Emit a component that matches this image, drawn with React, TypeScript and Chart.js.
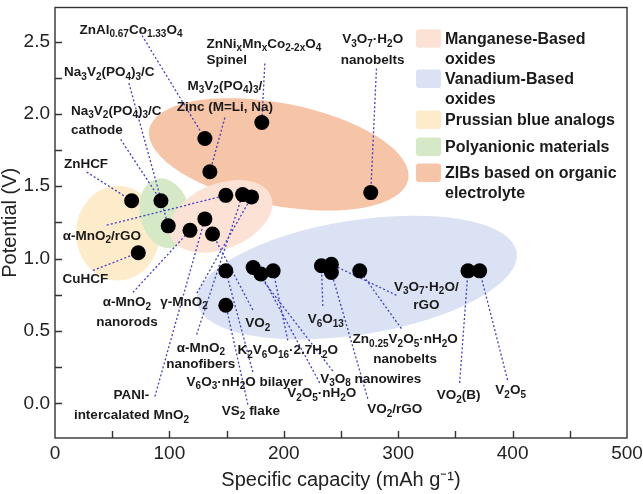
import { useEffect, useRef } from 'react';
import { Chart, registerables } from 'chart.js';

Chart.register(...registerables);

// ---------- data ----------
const capacity = [131, 135.4, 180.8, 276, 67, 92.6, 99, 72.8, 118, 131, 137.7, 149.3, 164, 171.8, 149.3, 149.3, 173.2, 180, 190.7, 232.9, 241.6, 241.6, 266.4, 361, 371.2];
const potential = [1.83, 1.6, 1.94, 1.456, 1.4, 1.4, 1.226, 1.04, 1.195, 1.274, 1.17, 1.437, 1.442, 1.426, 0.915, 0.677, 0.938, 0.893, 0.915, 0.95, 0.96, 0.904, 0.915, 0.915, 0.915];
const materialLabels: string[][] = [
  ['ZnAl_{0.67}Co_{1.33}O_4'],
  ['M_3V_2(PO_4)_3/', 'Zinc (M=Li, Na)'],
  ['ZnNi_xMn_xCo_{2-2x}O_4', 'Spinel'],
  ['V_3O_7·H_2O', 'nanobelts'],
  ['ZnHCF'],
  ['Na_3V_2(PO_4)_3/C', 'cathode'],
  ['Na_3V_2(PO_4)_3/C'],
  ['CuHCF'],
  ['α-MnO_2', 'nanorods'],
  ['PANI-', 'intercalated MnO_2'],
  ['VO_2'],
  ['α-MnO_2/rGO'],
  ['α-MnO_2', 'nanofibers'],
  ['γ-MnO_2'],
  ['V_6O_3·nH_2O bilayer'],
  ['VS_2 flake'],
  ['V_3O_8 nanowires'],
  ['V_2O_5·nH_2O'],
  ['K_2V_6O_{16}·2.7H_2O'],
  ['V_6O_{13}'],
  ['V_3O_7·H_2O/', 'rGO'],
  ['VO_2/rGO'],
  ['Zn_{0.25}V_2O_5·nH_2O', 'nanobelts'],
  ['VO_2(B)'],
  ['V_2O_5'],
];

const xTickLabels = [0, 100, 200, 300, 400, 500];
const yTickLabels = [0, 0.5, 1, 1.5, 2, 2.5];
const xTickMarks = [50, 100, 150, 200, 250, 300, 350, 400, 450];
const yTickMarks = [0, 0.25, 0.5, 0.75, 1, 1.25, 1.5, 1.75, 2, 2.25, 2.5];

const legendLabels: string[][] = [
  ['Manganese-Based', 'oxides'],
  ['Vanadium-Based', 'oxides'],
  ['Prussian blue analogs'],
  ['Polyanionic materials'],
  ['ZIBs based on organic', 'electrolyte'],
];
const groupColors = ['#fbe2d5', '#dae2f3', '#fdebc9', '#d5e9c6', '#f6c4a6'];

// ---------- layout of decorations (data coordinates) ----------
// regions: [group index, cx, cy, rx (x units), ry (y units), rotation deg]
const regions: [number, number, number, number, number, number][] = [
  [4, 195.6, 1.72, 115.3, 0.354, 11],
  [1, 263.8, 0.869, 141.5, 0.395, -9],
  [2, 55, 1.176, 36.7, 0.327, 0],
  [3, 96.1, 1.313, 21.8, 0.245, -13],
  [0, 145, 1.292, 47.2, 0.225, -22],
];

// label placement: [x, y, align, lineGapPx, lineStartX, lineStartY]
const labelPlacement: [number, number, CanvasTextAlign, number, number, number][] = [
  [66.4, 2.579, 'center', 18, 74.2, 2.566],
  [148.5, 2.191, 'center', 21, 148.5, 1.974],
  [132.5, 2.484, 'left', 16, 183.4, 2.348],
  [277.7, 2.512, 'center', 21, 281, 2.314],
  [27.1, 1.653, 'center', 18, 27.7, 1.598],
  [14.0, 2.021, 'left', 19, 57.4, 1.824],
  [47.5, 2.287, 'center', 18, 64.6, 2.212],
  [26.6, 0.858, 'center', 18, 33.2, 0.918],
  [62.9, 0.695, 'center', 20, 68.1, 0.766],
  [66.8, 0.052, 'center', 20, 87.3, 0.046],
  [177.3, 0.55, 'center', 18, 172.9, 0.645],
  [41.0, 1.156, 'center', 18, 45.2, 1.231],
  [127.5, 0.381, 'center', 16, 123.8, 0.475],
  [112.7, 0.7, 'center', 18, 124, 0.761],
  [165.9, 0.148, 'center', 18, 172.9, 0.216],
  [171.2, -0.057, 'center', 18, 168.6, -0.009],
  [276, 0.168, 'center', 18, 242.8, 0.223],
  [233.2, 0.066, 'center', 18, 231.4, 0.141],
  [203.5, 0.366, 'center', 18, 203.5, 0.434],
  [236.7, 0.577, 'center', 18, 234.1, 0.672],
  [324.6, 0.802, 'center', 18, 298.4, 0.747],
  [297, -0.043, 'center', 18, 273.4, 0.032],
  [306.1, 0.441, 'center', 20, 302.8, 0.516],
  [352.8, 0.052, 'center', 18, 353.7, 0.141],
  [398.3, 0.087, 'center', 18, 395.6, 0.161],
];

const FONT = '"Liberation Sans", Arial, Helvetica, sans-serif';

type Seg = { t: string; sub: boolean };
function parseRich(s: string): Seg[] {
  const segs: Seg[] = [];
  let buf = '';
  let i = 0;
  while (i < s.length) {
    const c = s[i];
    if (c === '_') {
      if (buf) { segs.push({ t: buf, sub: false }); buf = ''; }
      if (s[i + 1] === '{') {
        const j = s.indexOf('}', i + 2);
        segs.push({ t: s.slice(i + 2, j), sub: true });
        i = j + 1;
      } else {
        segs.push({ t: s[i + 1], sub: true });
        i += 2;
      }
    } else {
      buf += c;
      i++;
    }
  }
  if (buf) segs.push({ t: buf, sub: false });
  return segs;
}

function drawRich(ctx: CanvasRenderingContext2D, s: string, x: number, y: number, align: CanvasTextAlign, size: number, subSize: number) {
  const segs = parseRich(s);
  const mainF = `bold ${size}px ${FONT}`;
  const subF = `bold ${subSize}px ${FONT}`;
  let w = 0;
  const widths = segs.map((sg) => {
    ctx.font = sg.sub ? subF : mainF;
    const mw = ctx.measureText(sg.t).width;
    w += mw;
    return mw;
  });
  let cx = align === 'center' ? x - w / 2 : align === 'right' ? x - w : x;
  ctx.textAlign = 'left';
  ctx.textBaseline = 'middle';
  segs.forEach((sg, k) => {
    ctx.font = sg.sub ? subF : mainF;
    ctx.fillText(sg.t, cx, y + (sg.sub ? 4.5 : 0));
    cx += widths[k];
  });
}

const decorPlugin = {
  id: 'decor',
  beforeDatasetsDraw(chart: any) {
    const ctx: CanvasRenderingContext2D = chart.ctx;
    const xs = chart.scales.x;
    const ys = chart.scales.y;
    ctx.save();
    // regions
    regions.forEach(([g, cx, cy, rx, ry, rot]) => {
      const px = xs.getPixelForValue(cx);
      const py = ys.getPixelForValue(cy);
      const rxp = Math.abs(xs.getPixelForValue(cx + rx) - px);
      const ryp = Math.abs(ys.getPixelForValue(cy + ry) - py);
      ctx.beginPath();
      ctx.ellipse(px, py, rxp, ryp, (rot * Math.PI) / 180, 0, Math.PI * 2);
      ctx.fillStyle = groupColors[g];
      ctx.fill();
    });
    // leader lines
    ctx.strokeStyle = '#3f3fc8';
    ctx.lineWidth = 1.3;
    ctx.setLineDash([2, 2.2]);
    labelPlacement.forEach((p, i) => {
      ctx.beginPath();
      ctx.moveTo(xs.getPixelForValue(p[4]), ys.getPixelForValue(p[5]));
      ctx.lineTo(xs.getPixelForValue(capacity[i]), ys.getPixelForValue(potential[i]));
      ctx.stroke();
    });
    ctx.restore();
  },
  afterDatasetsDraw(chart: any) {
    const ctx: CanvasRenderingContext2D = chart.ctx;
    const xs = chart.scales.x;
    const ys = chart.scales.y;
    const area = chart.chartArea;
    ctx.save();
    ctx.fillStyle = '#1a1a1a';
    materialLabels.forEach((lines, i) => {
      const [x, y, align, gap] = labelPlacement[i];
      const px = xs.getPixelForValue(x);
      const py = ys.getPixelForValue(y);
      lines.forEach((ln, k) => drawRich(ctx, ln, px, py + k * gap, align, 13.5, 10));
    });
    // legend
    const swTop = [22.7, 63, 104, 131, 157];
    const sx = area.left + 361;
    legendLabels.forEach((lines, i) => {
      const top = area.top + swTop[i] - 1;
      ctx.beginPath();
      (ctx as any).roundRect(sx, top, 25, 18.5, 3);
      ctx.fillStyle = groupColors[i];
      ctx.fill();
      ctx.fillStyle = '#1a1a1a';
      ctx.font = `bold 16px ${FONT}`;
      ctx.textAlign = 'left';
      ctx.textBaseline = 'middle';
      lines.forEach((ln, k) => ctx.fillText(ln, sx + 29, top + 10 + k * 20.5));
    });
    ctx.restore();
  },
  afterDraw(chart: any) {
    const ctx: CanvasRenderingContext2D = chart.ctx;
    const xs = chart.scales.x;
    const ys = chart.scales.y;
    const a = chart.chartArea;
    ctx.save();
    ctx.strokeStyle = '#333';
    ctx.lineWidth = 1.4;
    ctx.strokeRect(a.left, a.top, a.right - a.left, a.bottom - a.top);
    ctx.beginPath();
    xTickMarks.forEach((v) => {
      const p = Math.round(xs.getPixelForValue(v)) + 0.5;
      ctx.moveTo(p, a.bottom);
      ctx.lineTo(p, a.bottom - 7);
    });
    yTickMarks.forEach((v) => {
      const p = Math.round(ys.getPixelForValue(v)) + 0.5;
      ctx.moveTo(a.left, p);
      ctx.lineTo(a.left + 7, p);
    });
    ctx.stroke();
    ctx.restore();
  },
};

export default function App() {
  const ref = useRef<HTMLCanvasElement | null>(null);
  useEffect(() => {
    document.body.style.margin = '0';
    const canvas = ref.current;
    if (!canvas) return;
    const chart = new Chart(canvas, {
      type: 'scatter',
      data: {
        datasets: [
          {
            label: 'materials',
            data: capacity.map((x, i) => ({ x, y: potential[i] })),
            pointRadius: 7.5,
            pointHoverRadius: 7.5,
            pointBackgroundColor: '#000',
            pointBorderWidth: 0,
          },
        ],
      },
      options: {
        responsive: false,
        animation: false,
        layout: { padding: { top: 1, right: 16, bottom: 0, left: 0 } },
        plugins: { legend: { display: false }, tooltip: { enabled: false } },
        scales: {
          x: {
            type: 'linear',
            min: 0,
            max: 500,
            grid: { display: false, drawTicks: false },
            border: { display: false },
            ticks: { font: { family: FONT, size: 19 }, color: '#222', padding: 4, callback: (v: any) => String(v) },
            afterBuildTicks: (s: any) => { s.ticks = xTickLabels.map((v) => ({ value: v })); },
            afterFit: (s: any) => { s.height = 56; s.paddingLeft = 0; s.paddingRight = 0; },
            title: { display: true, text: 'Specific capacity (mAh g⁻¹)', font: { family: FONT, size: 20 }, color: '#222', padding: { top: 0, bottom: 2 } },
          },
          y: {
            type: 'linear',
            min: -0.24,
            max: 2.735,
            grid: { display: false, drawTicks: false },
            border: { display: false },
            ticks: { font: { family: FONT, size: 19 }, color: '#222', padding: 5, callback: (v: any) => Number(v).toFixed(1) },
            afterBuildTicks: (s: any) => { s.ticks = yTickLabels.map((v) => ({ value: v })); },
            afterFit: (s: any) => { s.width = 55; s.paddingTop = 0; s.paddingBottom = 0; },
            title: { display: true, text: 'Potential (V)', font: { family: FONT, size: 20, lineHeight: 1 }, color: '#222', padding: { top: 0, bottom: 0 } },
          },
        },
      },
      plugins: [decorPlugin],
    } as any);
    return () => chart.destroy();
  }, []);
  return (
    <div style={{ width: 643, height: 494 }}>
      <canvas ref={ref} width={643} height={494} style={{ width: 643, height: 494, display: 'block' }} />
    </div>
  );
}
